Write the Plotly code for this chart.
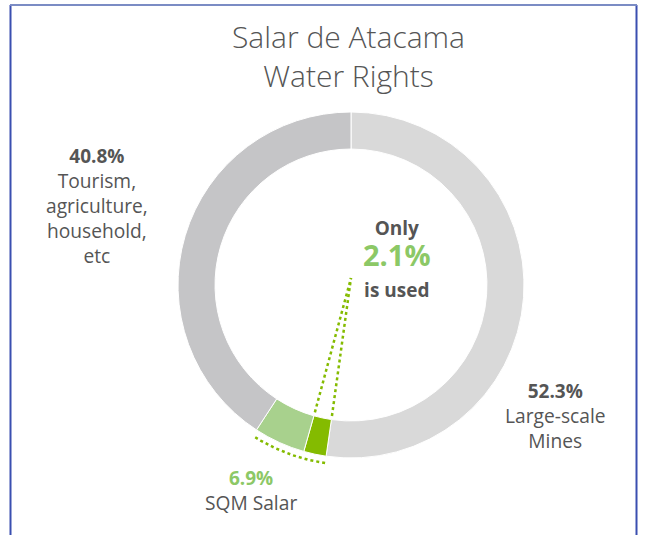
import numpy as np
import plotly.graph_objects as go

# ---- data ----
categories = ["Large-scale Mines", "SQM Salar (used)", "SQM Salar (unused)",
              "Tourism, agriculture, household, etc"]
shares = [52.3, 2.1, 4.8, 40.8]
sqm_total = 6.9
used_share = 2.1
title_lines = ["Salar de Atacama", "Water Rights"]
label_mines = ["Large-scale", "Mines"]
label_other = ["Tourism,", "agriculture,", "household,", "etc"]
label_sqm = ["SQM Salar"]

# ---- styles ----
W, H = 645, 535
CX, CY, R = 351, 285, 173
colors = ["#d9d9d9", "#84bb00", "#a8d18d", "#c5c5c7"]
GREEN = "#84bb00"
LGREEN = "#8cc866"
TXT = "#555555"
FONT = "Open Sans"

fig = go.Figure()

fig.add_trace(go.Pie(
    labels=categories, values=shares, sort=False, direction="clockwise",
    rotation=0, hole=0.786, textinfo="none", hoverinfo="label+percent",
    marker=dict(colors=colors, line=dict(color="white", width=1)),
    domain=dict(x=[(CX - R) / W, (CX + R) / W],
                y=[1 - (CY + R) / H, 1 - (CY - R) / H]),
    showlegend=False,
))

def pt(frac_pct, r):
    th = 2 * np.pi * frac_pct / 100.0
    return CX + r * np.sin(th), CY - r * np.cos(th)

cum = np.cumsum([0] + shares)
# dotted arc outside SQM share
arc_t = np.linspace(cum[1], cum[1] + sqm_total, 60)
ax_, ay_ = zip(*[pt(t, R * 1.04) for t in arc_t])
fig.add_trace(go.Scatter(x=ax_, y=ay_, mode="lines", hoverinfo="skip",
                         line=dict(color=GREEN, width=2.5, dash="dot"),
                         showlegend=False))
# leader lines from the used slice to the label
lab_x, lab_y = 397, 258
tip = (lab_x - 46, lab_y + 20)
for t in [cum[1], cum[2]]:
    x0, y0 = pt(t, R * 0.765)
    fig.add_trace(go.Scatter(x=[x0, tip[0]], y=[y0, tip[1]], mode="lines",
                             hoverinfo="skip",
                             line=dict(color=GREEN, width=2.5, dash="dot"),
                             showlegend=False))

ann = []
def add(text, x, y, size, color=TXT, weight=None):
    f = dict(family=FONT, size=size, color=color)
    if weight is not None:
        f["weight"] = weight
    ann.append(dict(text=text, x=x, y=y,
                    xref="x", yref="y", showarrow=False, xanchor="center",
                    yanchor="middle", align="center", font=f))

def span(t, size=None, color=None, bold=False):
    st = []
    if size:
        st.append(f"font-size:{size}px")
    if color:
        st.append(f"color:{color}")
    s = f"<span style='{';'.join(st)}'>{t}</span>" if st else t
    return f"<b>{s}</b>" if bold else s

add("<br>".join(title_lines), 348, 56, 30, weight=300)

add("<br>".join([span("Only", 19, bold=True),
                 span(f"{used_share}%", 29, LGREEN, bold=True),
                 span("is used", 19, bold=True)]), lab_x, 259, 24)

add("<br>".join([span(f"{shares[3]}%", 19, bold=True)] + label_other),
    97, 206, 19.2)
add("<br>".join([span(f"{shares[0]}%", 19, bold=True)] + label_mines),
    555, 416, 19.2)
add("<br>".join([span(f"{sqm_total}%", 19, LGREEN, bold=True)] + label_sqm),
    251, 490, 19.2)

shapes = [
    dict(type="line", xref="x", yref="y", x0=10.5, x1=10.5, y0=5, y1=H,
         line=dict(color="#3a4fb0", width=2)),
    dict(type="line", xref="x", yref="y", x0=636.5, x1=636.5, y0=5, y1=H,
         line=dict(color="#3a4fb0", width=2)),
    dict(type="line", xref="x", yref="y", x0=10, x1=637, y0=5, y1=5,
         line=dict(color="#7b8cc4", width=2)),
]

fig.update_layout(
    width=W, height=H, autosize=False,
    margin=dict(l=0, r=0, t=0, b=0),
    paper_bgcolor="white", plot_bgcolor="rgba(0,0,0,0)",
    xaxis=dict(range=[0, W], visible=False, domain=[0, 1], fixedrange=True),
    yaxis=dict(range=[H, 0], visible=False, domain=[0, 1], fixedrange=True),
    annotations=ann, shapes=shapes,
)

fig.write_html("out.html", config={"displayModeBar": False},
               post_script="document.body.style.margin='0px';"
                           "document.body.style.overflow='hidden';")
